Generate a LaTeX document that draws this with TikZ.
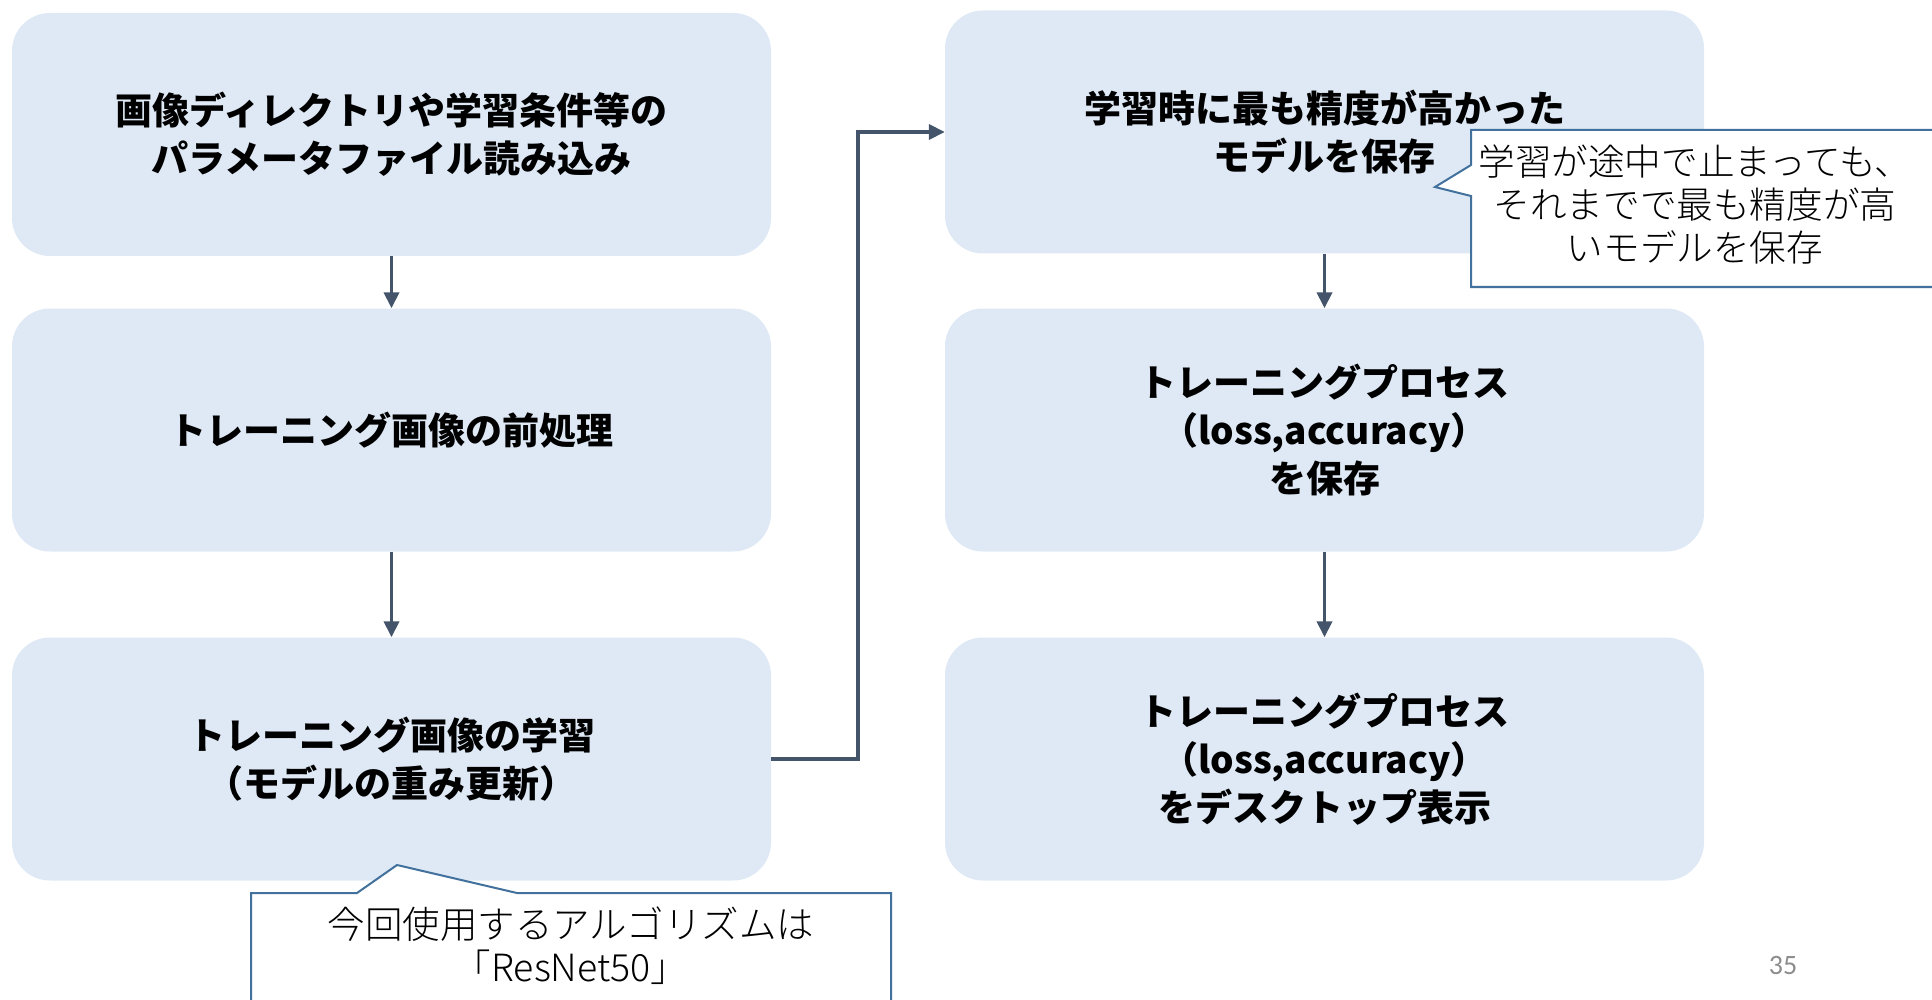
\documentclass[tikz,border=0pt]{standalone}
\usepackage{fontspec}
\newfontfamily\jp{Noto Sans CJK JP}
\newfontfamily\jpl{Noto Sans CJK JP}[UprightFont={* Light}]
\newfontfamily\pgnum{Carlito}
\usetikzlibrary{arrows.meta}
\definecolor{boxfill}{HTML}{DEE9F5}
\definecolor{arrowc}{HTML}{44546A}
\definecolor{callb}{HTML}{41719C}
\definecolor{pgray}{HTML}{8C8C8C}
\begin{document}
\begin{tikzpicture}[x=1pt,y=-1pt,
  stepbox/.style={fill=boxfill, rounded corners=38pt, minimum width=759pt, minimum height=243pt,
    align=center, font=\jp\bfseries\fontsize{37}{48}\selectfont, inner sep=0pt},
  flow/.style={draw=arrowc, line width=3.8pt, -{Triangle[length=16pt,width=15pt]}},
  callout/.style={draw=callb, line width=2pt, fill=white, line join=miter},
  calltext/.style={align=center, font=\jpl\fontsize{37.5}{43}\selectfont, inner sep=0pt}]
\useasboundingbox (0,0) rectangle (1932,1000);
\clip (0,0) rectangle (1932,1000);
% boxes
\node[stepbox] (L1) at (391.5,134.5) {画像ディレクトリや学習条件等の\\パラメータファイル読み込み};
\node[stepbox] (L2) at (391.5,430) {トレーニング画像の前処理};
\node[stepbox] (L3) at (391.5,759) {トレーニング画像の学習\\（モデルの重み更新）};
\node[stepbox] (R1) at (1324.5,132) {学習時に最も精度が高かった\\モデルを保存};
\node[stepbox] (R2) at (1324.5,430) {トレーニングプロセス\\（loss,accuracy）\\を保存};
\node[stepbox] (R3) at (1324.5,759) {トレーニングプロセス\\（loss,accuracy）\\をデスクトップ表示};
% connectors
\draw[flow] (L1.south) -- (L2.north);
\draw[flow] (L2.south) -- (L3.north);
\draw[flow] (R1.south) -- (R2.north);
\draw[flow] (R2.south) -- (R3.north);
\coordinate (bend) at (858,759);
\draw[flow] (L3.east) -- (bend) |- (R1.west);
% callout 1
\draw[callout] (1471,130) -- (1945,130) -- (1945,287) -- (1471,287) -- (1471,196) -- (1435,187) -- (1471,165) -- cycle;
\node[calltext, font=\jpl\fontsize{36.6}{43}\selectfont] (c1) at (1695,205) {学習が途中で止まっても、\\それまでで最も精度が高\\いモデルを保存};
% callout 2
\draw[callout] (251,1010) -- (251,893) -- (357,893) -- (397,865) -- (517,893) -- (891,893) -- (891,1010);
\node[calltext] (c2) at (571,946) {今回使用するアルゴリズムは\\「ResNet50」};
% page number
\node[font=\pgnum\fontsize{28}{32}\selectfont, text=pgray, inner sep=0pt] (pg) at (1783,966) {35};
\end{tikzpicture}
\end{document}
